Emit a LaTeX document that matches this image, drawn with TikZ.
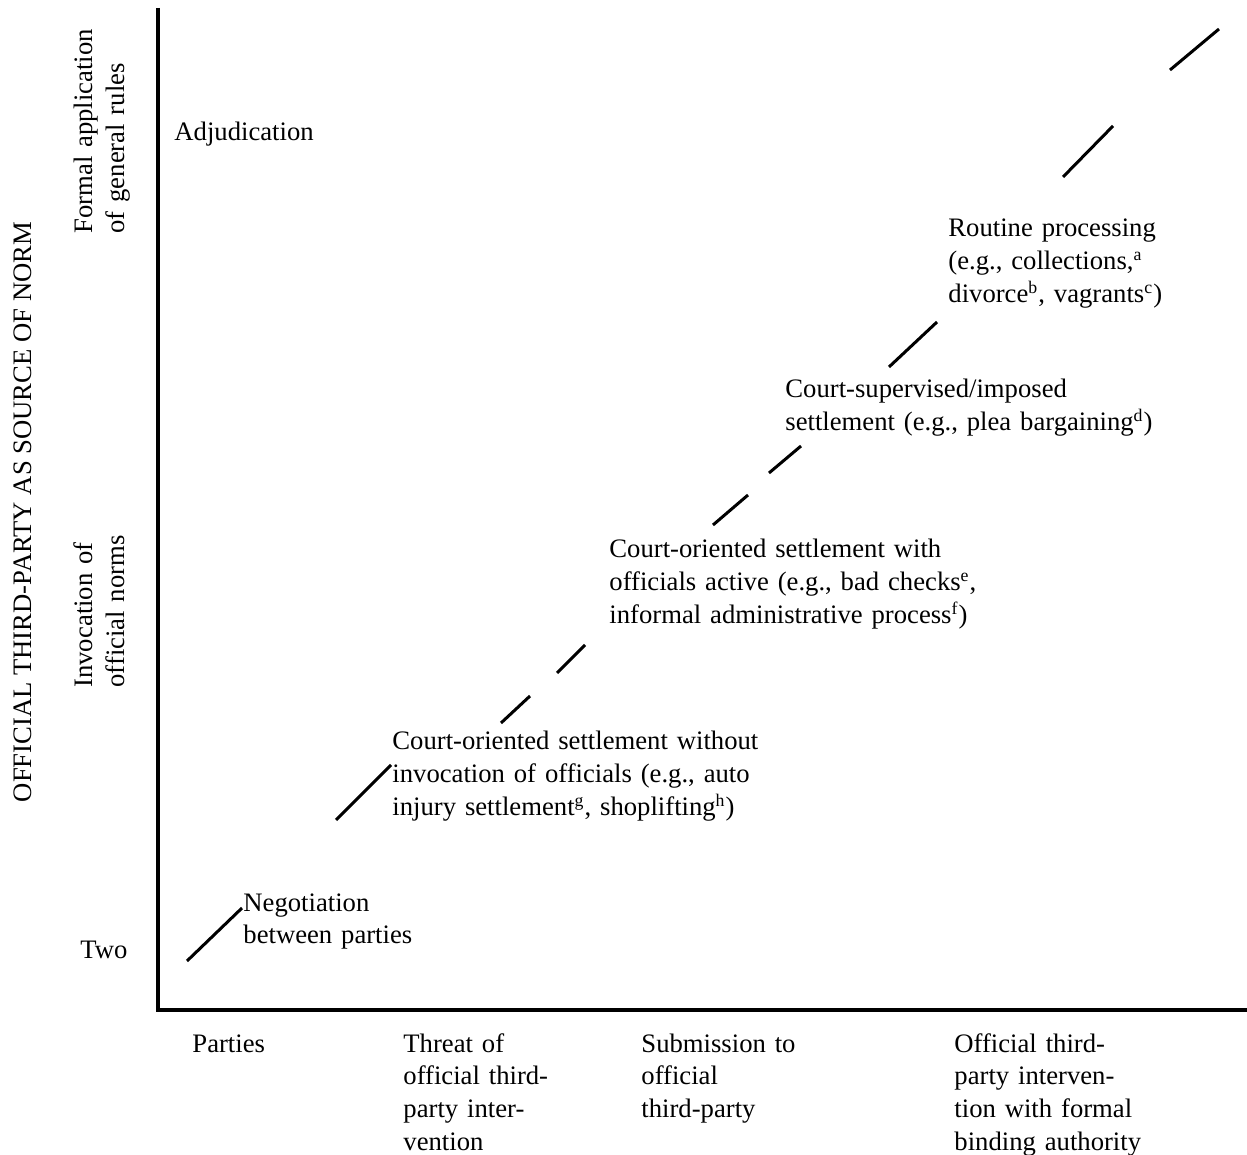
\documentclass[tikz,border=0pt]{standalone}
\usepackage{fontspec}
\setmainfont{Liberation Serif}

\begin{document}
\begin{tikzpicture}[x=0.45pt, y=-0.45pt,
   every node/.style={inner sep=0pt, anchor=base west, text width=9cm,
                      align=left, font=\fontsize{12}{14.8}\selectfont},
   axis/.style={line width=1.4pt},
   piece/.style={line width=1.35pt}]

\useasboundingbox (0,0) rectangle (1247,1155);

% axes
\draw[axis] (158,8) -- (158,1010) -- (1247,1010);

% the broken diagonal
\foreach \xa/\ya/\xb/\yb in {187/961/242/908, 336/820/391/765,
    501/723/530/696, 557/673/585/645, 713/525/748/495, 769/473/801/446,
    889/367/937/322, 1063/177/1113/126, 1170/70/1219/29}
  \draw[piece] (\xa,\ya) -- (\xb,\yb);

% vertical axis labels
\node[rotate=90, anchor=base, text width={}, align=none] (norm) at (32,512) {OFFICIAL THIRD-PARTY AS SOURCE OF NORM};
\node[rotate=90] (formal) at (92,234) {Formal application\\of general rules};
\node[rotate=90] (invoke) at (92,688) {Invocation of\\official norms};
\node (two) at (80,959) {Two};

% horizontal axis labels
\node (parties) at (192,1052) {Parties};
\node (threat) at (403,1052) {Threat of\\official third-\\party inter-\\vention};
\node (submit) at (641,1052) {Submission to\\official\\third-party};
\node (binding) at (954,1052) {Official third-\\party interven-\\tion with formal\\binding authority};

% processes
\node (adjud) at (174,141) {Adjudication};
\node (routine) at (948,237) {Routine processing\\(e.g., collections,\textsuperscript{a}\\divorce\textsuperscript{b}, vagrants\textsuperscript{c})};
\node (imposed) at (785,398) {Court-supervised/imposed\\settlement (e.g., plea bargaining\textsuperscript{d})};
\node (active) at (609,558) {Court-oriented settlement with\\officials active (e.g., bad checks\textsuperscript{e},\\informal administrative process\textsuperscript{f})};
\node (without) at (392,750) {Court-oriented settlement without\\invocation of officials (e.g., auto\\injury settlement\textsuperscript{g}, shoplifting\textsuperscript{h})};
\node (negot) at (243,911) {Negotiation\\between parties};

\end{tikzpicture}
\end{document}
